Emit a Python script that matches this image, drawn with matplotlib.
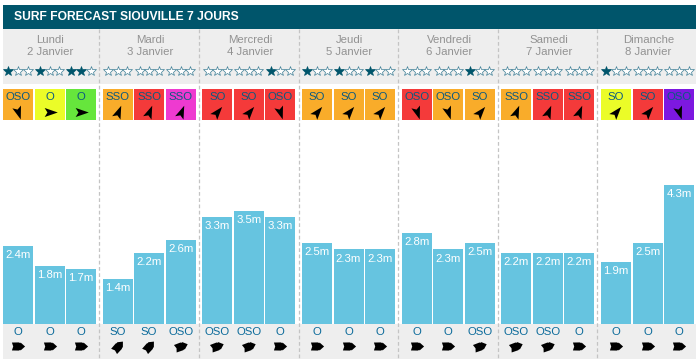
import numpy as np
import matplotlib
matplotlib.use("Agg")
import matplotlib.pyplot as plt
from matplotlib.markers import MarkerStyle
from matplotlib.patches import Rectangle
from matplotlib.path import Path
from matplotlib.transforms import Affine2D

plt.rcParams["font.family"] = ["Liberation Sans", "DejaVu Sans"]

title = "SURF FORECAST SIOUVILLE 7 JOURS"
day_names = ["Lundi", "Mardi", "Mercredi", "Jeudi", "Vendredi", "Samedi", "Dimanche"]
day_dates = ["2 Janvier", "3 Janvier", "4 Janvier", "5 Janvier", "6 Janvier", "7 Janvier", "8 Janvier"]

heights = [2.4, 1.8, 1.7, 1.4, 2.2, 2.6, 3.3, 3.5, 3.3, 2.5, 2.3, 2.3,
           2.8, 2.3, 2.5, 2.2, 2.2, 2.2, 1.9, 2.5, 4.3]
stars = [1, 1, 2, 0, 0, 0, 0, 0, 1, 1, 1, 1,
         0, 0, 1, 0, 0, 0, 1, 0, 0]
wind_dir = ["OSO", "O", "O", "SSO", "SSO", "SSO", "SO", "SO", "OSO", "SO", "SO", "SO",
            "OSO", "OSO", "SO", "SSO", "SSO", "SSO", "SO", "SO", "OSO"]
wind_col = ["orange", "yellow", "green", "orange", "red", "magenta", "red", "red", "red",
            "orange", "orange", "orange", "red", "orange", "orange", "orange", "red", "red",
            "yellow", "red", "purple"]
swell_dir = ["O", "O", "O", "SO", "SO", "OSO", "OSO", "OSO", "O", "O", "O", "O",
             "O", "O", "OSO", "OSO", "OSO", "O", "O", "O", "O"]

colors = {"orange": "#f9ac2a", "yellow": "#ebfc28", "green": "#66e63c",
          "red": "#f43a3a", "magenta": "#ee3ad0", "purple": "#7d18e0"}
wind_angle = {"O": 0, "SO": 50, "SSO": 68, "OSO": -72}
swell_angle = {"O": 0, "SO": 48, "OSO": 20}

TEAL = "#00556b"
GREY = "#eeeeee"
BAR = "#66c4e0"
PX_PER_M = 32.4
BASE_Y = 324
BAR_TOP_Y = 124
BAR_W = 30


def slot_left(i):
    return 3 + (i // 3) * 99.67 + (i % 3) * 31.5


# notched arrow used on the wind tiles
wind_path = Path([(1, 0), (-0.8, 0.62), (-0.42, 0), (-0.8, -0.62), (1, 0)],
                 [Path.MOVETO, Path.LINETO, Path.LINETO, Path.LINETO, Path.CLOSEPOLY])
# stubby block arrow under the bars
swell_path = Path([(1, 0), (0.3, 0.62), (0.3, 0.5), (0.05, 0.62), (-1, 0.6), (-0.8, 0), (-1, -0.6),
                   (0.05, -0.62), (0.3, -0.5), (0.3, -0.62), (1, 0)],
                  [Path.MOVETO] + [Path.LINETO] * 9 + [Path.CLOSEPOLY])

fig = plt.figure(figsize=(6.98, 3.64), dpi=100)
ax = fig.add_axes([0, 0, 1, 1], zorder=0)
ax.set_xlim(0, 698)
ax.set_ylim(364, 0)
ax.axis("off")

ax.add_patch(Rectangle((3, 5), 693, 24, color=TEAL, lw=0))
ax.add_patch(Rectangle((3, 29), 693, 55, color=GREY, lw=0))
ax.add_patch(Rectangle((3, 324), 693, 35, color=GREY, lw=0))
ax.text(14, 17.5, title, color="white", fontsize=8.7, fontweight="bold", va="center", ha="left")

for d in range(7):
    cx = 3 + d * 99.67 + 47.5
    ax.text(cx, 40, day_names[d], color="#929292", fontsize=8.2, ha="center", va="center")
    ax.text(cx, 52, day_dates[d], color="#929292", fontsize=8.2, ha="center", va="center")
    if d > 0:
        x = 99.4 + (d - 1) * 99.6
        ax.plot([x, x], [29, 359], color="#c4c4c4", lw=0.9, ls=(0, (3, 2)), zorder=5)

for i in range(21):
    left = slot_left(i)
    cx = left + BAR_W / 2
    # rating stars
    for k in range(3):
        filled = k < stars[i]
        ax.plot(cx + (k - 1) * 9.6, 71, marker="*", ms=7.6, ls="none",
                mfc=TEAL if filled else "white", mec=TEAL if filled else "#3f7f96", mew=0.5)
    # wind tile
    ax.add_patch(Rectangle((left, 89), BAR_W, 31, color=colors[wind_col[i]], lw=0))
    ax.text(cx, 97, wind_dir[i], color="#0b5a80", fontsize=8.2, ha="center", va="center")
    m = MarkerStyle(wind_path, transform=Affine2D().rotate_deg(wind_angle[wind_dir[i]]))
    ax.plot(cx, 111.5, marker=m, ms=10.5, color="black", mew=0, ls="none")
    # swell footer
    ax.text(cx, 332, swell_dir[i], color="#0a6a9a", fontsize=8.2, ha="center", va="center")
    m = MarkerStyle(swell_path, transform=Affine2D().rotate_deg(swell_angle[swell_dir[i]]))
    ax.plot(cx, 345.5, marker=m, ms=9.5, color="black", mew=0, ls="none")

# bars get their own axes so heights stay in metres
ax_bar = fig.add_axes([0, (364 - BASE_Y) / 364, 1, (BASE_Y - BAR_TOP_Y) / 364], zorder=1)
ax_bar.patch.set_alpha(0)
ax_bar.set_xlim(0, 698)
ax_bar.set_ylim(0, (BASE_Y - BAR_TOP_Y) / PX_PER_M)
ax_bar.axis("off")
lefts = np.array([slot_left(i) for i in range(21)])
ax_bar.bar(lefts, heights, width=BAR_W, align="edge", color=BAR, lw=0)
for x, h in zip(lefts, heights):
    ax_bar.annotate(f"{h}m", (x + BAR_W / 2, h), xytext=(0, -6.5), textcoords="offset points",
                    color="white", fontsize=8.2, ha="center", va="center")

fig.savefig("out.png", dpi=100)
